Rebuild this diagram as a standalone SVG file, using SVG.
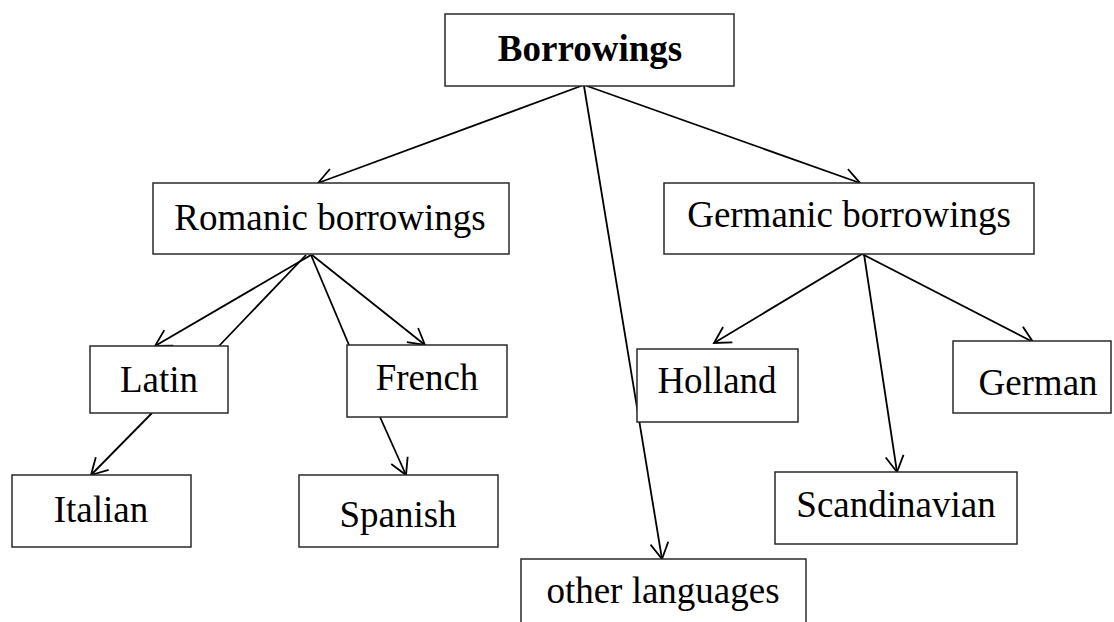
<svg xmlns="http://www.w3.org/2000/svg" width="1114" height="622" viewBox="0 0 1114 622">
  <defs>
    <style>
      .box { fill: #ffffff; stroke: #2a2a2a; stroke-width: 1.5; }
      .lbl { font-family: "Liberation Serif", "Times New Roman", serif; font-size: 37px; fill: #000; text-anchor: middle; }
      .bold { font-weight: bold; }
      .edge { fill: none; stroke: #000; stroke-width: 1.8; }
    </style>
    <marker id="arrow" viewBox="-18 -11 20 22" refX="0" refY="0" markerWidth="20" markerHeight="22" markerUnits="userSpaceOnUse" orient="auto">
      <path d="M -16 -9 L 0 0 L -16 9" fill="none" stroke="#000" stroke-width="1.8"/>
    </marker>
  </defs>
  <rect width="1114" height="622" fill="#ffffff"/>

  <g id="connectors">
    <line class="edge" x1="581" y1="86" x2="318" y2="183" marker-end="url(#arrow)"/>
    <line class="edge" x1="587" y1="86" x2="860" y2="183" marker-end="url(#arrow)"/>
    <line class="edge" x1="584" y1="86" x2="662" y2="559" marker-end="url(#arrow)"/>
    <line class="edge" x1="311" y1="255" x2="155" y2="346" marker-end="url(#arrow)"/>
    <line class="edge" x1="306" y1="255" x2="219" y2="346"/>
    <line class="edge" x1="311" y1="255" x2="349" y2="345"/>
    <line class="edge" x1="312" y1="255" x2="425" y2="345" marker-end="url(#arrow)"/>
    <line class="edge" x1="152" y1="413" x2="91" y2="475" marker-end="url(#arrow)"/>
    <line class="edge" x1="380" y1="417" x2="406" y2="475" marker-end="url(#arrow)"/>
    <line class="edge" x1="862" y1="254" x2="714" y2="343" marker-end="url(#arrow)"/>
    <line class="edge" x1="862" y1="254" x2="1033" y2="342" marker-end="url(#arrow)"/>
    <line class="edge" x1="864" y1="254" x2="897" y2="472" marker-end="url(#arrow)"/>
  </g>

  <g id="borrowings">
    <rect class="box" x="445" y="14" width="289" height="72"/>
    <text class="lbl bold" x="590" y="61">Borrowings</text>
  </g>
  <g id="romanic">
    <rect class="box" x="153" y="183" width="356" height="71"/>
    <text class="lbl" x="330" y="230">Romanic borrowings</text>
  </g>
  <g id="germanic">
    <rect class="box" x="664" y="183" width="370" height="71"/>
    <text class="lbl" x="849" y="227">Germanic borrowings</text>
  </g>
  <g id="latin">
    <rect class="box" x="90" y="346" width="138" height="67"/>
    <text class="lbl" x="159" y="392">Latin</text>
  </g>
  <g id="french">
    <rect class="box" x="347" y="345" width="160" height="72"/>
    <text class="lbl" x="427" y="390">French</text>
  </g>
  <g id="italian">
    <rect class="box" x="12" y="475" width="179" height="72"/>
    <text class="lbl" x="101" y="522">Italian</text>
  </g>
  <g id="spanish">
    <rect class="box" x="299" y="475" width="199" height="72"/>
    <text class="lbl" x="398" y="527">Spanish</text>
  </g>
  <g id="holland">
    <rect class="box" x="637" y="349" width="161" height="73"/>
    <text class="lbl" x="717" y="393">Holland</text>
  </g>
  <g id="german">
    <rect class="box" x="953" y="341" width="158" height="72"/>
    <text class="lbl" x="1038" y="395">German</text>
  </g>
  <g id="scandinavian">
    <rect class="box" x="775" y="472" width="242" height="72"/>
    <text class="lbl" x="896" y="517">Scandinavian</text>
  </g>
  <g id="other-languages">
    <rect class="box" x="521" y="559" width="285" height="80"/>
    <text class="lbl" x="663" y="603">other languages</text>
  </g>
</svg>
